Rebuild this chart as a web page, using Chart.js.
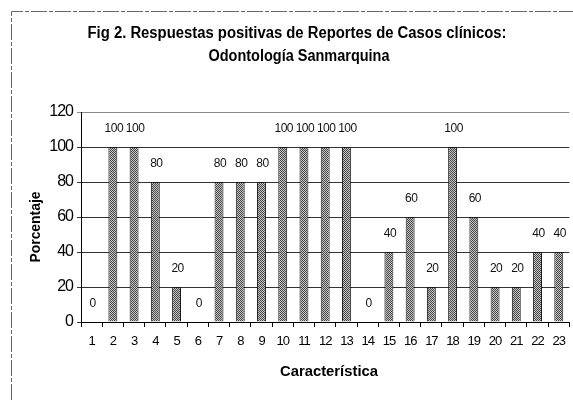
<!DOCTYPE html>
<html>
<head>
<meta charset="utf-8">
<script src="https://cdn.jsdelivr.net/npm/chart.js@4"></script>
<style>
  html, body { margin: 0; padding: 0; background: #fff; overflow: hidden; }
  canvas { display: block; }
</style>
</head>
<body>
<canvas id="fig2" width="573" height="400"></canvas>
<script>
// Fig 2 - respuestas positivas por característica (%)
const caracteristicas = ['1','2','3','4','5','6','7','8','9','10','11','12','13','14','15','16','17','18','19','20','21','22','23'];
const porcentajes = [0, 100, 100, 80, 20, 0, 80, 80, 80, 100, 100, 100, 100, 0, 40, 60, 20, 100, 60, 20, 20, 40, 40];
const tituloLineas = ['Fig 2. Respuestas positivas de Reportes de Casos clínicos:', 'Odontología Sanmarquina'];
const ejeX = 'Característica';
const ejeY = 'Porcentaje';

const FONT = '"Liberation Sans", Arial, sans-serif';

// stippled gray fill like the scanned bars
function stipple() {
    const c = document.createElement('canvas');
    c.width = 2; c.height = 2;
    const g = c.getContext('2d');
    g.fillStyle = '#c8c8c8';
    g.fillRect(0, 0, 2, 2);
    g.fillStyle = '#444';
    g.fillRect(0, 0, 1, 1);
    g.fillRect(1, 1, 1, 1);
    return g.createPattern(c, 'repeat');
}

const decor = {
    id: 'decor',
    beforeDraw(chart) {
        const ctx = chart.ctx;
        ctx.save();
        ctx.fillStyle = '#fff';
        ctx.fillRect(0, 0, chart.width, chart.height);
        // outer frame (only top and left visible)
        ctx.strokeStyle = '#666';
        ctx.lineWidth = 1;
        ctx.setLineDash([16, 2, 4, 2]);
        ctx.beginPath();
        ctx.moveTo(11.5, 400);
        ctx.lineTo(11.5, 11.5);
        ctx.lineTo(573, 11.5);
        ctx.stroke();
        ctx.restore();
        // tighter text like the original
        ctx.letterSpacing = '-1px';
    },
    afterDatasetsDraw(chart) {
        const ctx = chart.ctx;
        const bars = chart.getDatasetMeta(0).data;
        ctx.save();
        ctx.font = '12px ' + FONT;
        ctx.letterSpacing = '-0.5px';
        ctx.fillStyle = '#111';
        ctx.textAlign = 'center';
        ctx.textBaseline = 'middle';
        bars.forEach((bar, i) => {
            ctx.fillText(String(porcentajes[i]), bar.x + 1, bar.y - 18);
        });
        ctx.restore();
    },
    afterDraw(chart) {
        const ctx = chart.ctx;
        ctx.save();
        ctx.letterSpacing = '0px';
        ctx.fillStyle = '#000';
        ctx.textAlign = 'center';
        ctx.textBaseline = 'alphabetic';
        ctx.font = 'bold 16px ' + FONT;
        ctx.fillText(tituloLineas[0], 297, 38, 419);
        ctx.fillText(tituloLineas[1], 299, 61, 181);

        ctx.font = 'bold 15px ' + FONT;
        ctx.textBaseline = 'middle';
        ctx.fillText(ejeX, 329, 372, 98);

        ctx.translate(36, 227);
        ctx.rotate(-Math.PI / 2);
        ctx.font = 'bold 14px ' + FONT;
        ctx.fillText(ejeY, 0, 0, 71);
        ctx.restore();
    }
};

new Chart(document.getElementById('fig2'), {
    type: 'bar',
    data: {
        labels: caracteristicas,
        datasets: [{
            data: porcentajes,
            backgroundColor: stipple(),
            borderColor: '#1a1a1a',
            borderWidth: 1,
            barPercentage: 0.42,
            categoryPercentage: 1
        }]
    },
    options: {
        responsive: false,
        animation: false,
        layout: { padding: { top: 112, left: 0, right: 0, bottom: 0 } },
        plugins: {
            legend: { display: false },
            title: { display: false },
            tooltip: { enabled: false }
        },
        scales: {
            x: {
                afterFit: s => { s.height = 78; },
                grid: {
                    offset: true,
                    drawOnChartArea: false,
                    drawTicks: true,
                    tickLength: 5,
                    color: '#000'
                },
                border: { color: '#000', width: 1 },
                ticks: {
                    color: '#000',
                    font: { family: FONT, size: 13 },
                    padding: 7,
                    maxRotation: 0,
                    autoSkip: false
                }
            },
            y: {
                min: 0,
                max: 120,
                afterFit: s => { s.width = 81; },
                grid: {
                    color: c => c.tick && c.tick.value === 120 ? '#8a8a8a' : '#333',
                    tickLength: 4
                },
                border: { color: '#000', width: 1 },
                ticks: {
                    stepSize: 20,
                    color: '#000',
                    font: { family: FONT, size: 16 },
                    padding: 4
                }
            }
        }
    },
    plugins: [decor]
});
</script>
</body>
</html>
